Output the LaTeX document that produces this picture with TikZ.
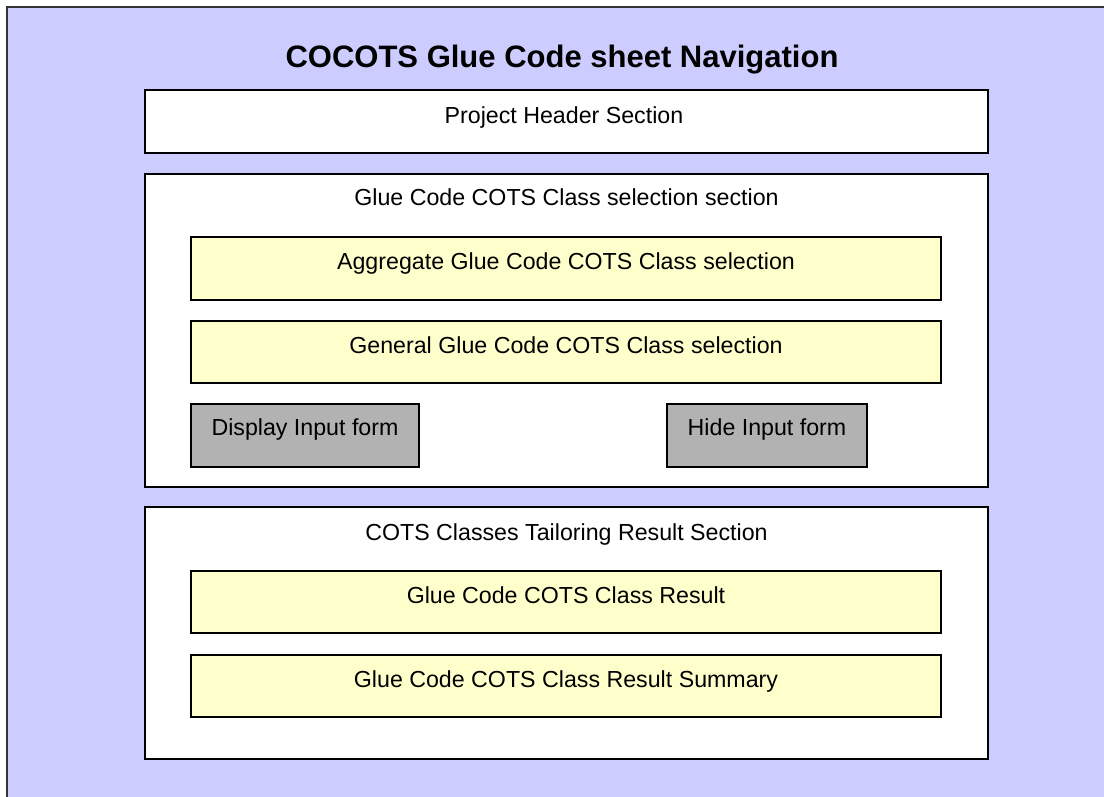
\documentclass[tikz,border=0pt]{standalone}
\usepackage{fontspec}
\setmainfont{Liberation Sans}
\definecolor{pagebg}{HTML}{CCCCFF}
\definecolor{panelyellow}{HTML}{FFFFCC}
\definecolor{buttongray}{HTML}{B2B2B2}
\definecolor{frameline}{HTML}{333333}
\begin{document}
\begin{tikzpicture}[x=1pt,y=-1pt,
  section/.style={draw=black,line width=1.6pt,fill=white,inner sep=0pt,
    minimum width=843pt,anchor=center},
  panel/.style={draw=black,line width=1.6pt,fill=panelyellow,inner sep=0pt,
    minimum width=750pt,minimum height=62pt,anchor=center},
  button/.style={draw=black,line width=1.6pt,fill=buttongray,inner sep=0pt,
    minimum height=63pt,anchor=center},
  caption/.style={anchor=base,inner sep=0pt,font=\fontsize{23.2}{27}\selectfont},
  heading/.style={anchor=base,inner sep=0pt,font=\fontsize{31}{36}\selectfont\bfseries}]
\useasboundingbox (0,0) rectangle (1104,796);
\clip (0,0) rectangle (1104,796);
% page background, framed on its top and left edges
\fill[pagebg] (7,7) rectangle (1110,800);
\draw[frameline,line width=1.6pt] (7,800) -- (7,7) -- (1110,7);

\node[heading] (title) at (562,67.5) {COCOTS Glue Code sheet Navigation};

% project header
\node[section,minimum height=63pt] (hdr) at (566.5,121.5) {};
\node[caption] (hdrtxt) at (564,123.5) {Project Header Section};

% class selection section
\node[section,minimum height=313pt] (sel) at (566.5,330.5) {};
\node[caption] (seltxt) at (566.5,205.5) {Glue Code COTS Class selection section};
\node[panel,minimum height=63pt] (agg) at (566,268.5) {};
\node[caption] (aggtxt) at (566,269.5) {Aggregate Glue Code COTS Class selection};
\node[panel] (gen) at (566,352) {};
\node[caption] (gentxt) at (566,353.5) {General Glue Code COTS Class selection};
\node[button,minimum width=228pt] (disp) at (305,435.5) {};
\node[caption] (disptxt) at (305,435.5) {Display Input form};
\node[button,minimum width=200pt] (hide) at (767,435.5) {};
\node[caption] (hidetxt) at (767,435.5) {Hide Input form};

% tailoring result section
\node[section,minimum height=252pt] (res) at (566.5,633) {};
\node[caption] (restxt) at (566.5,540.5) {COTS Classes Tailoring Result Section};
\node[panel] (cls) at (566,602) {};
\node[caption] (clstxt) at (566,603.5) {Glue Code COTS Class Result};
\node[panel] (sum) at (566,686) {};
\node[caption] (sumtxt) at (566,687.5) {Glue Code COTS Class Result Summary};
\end{tikzpicture}
\end{document}
